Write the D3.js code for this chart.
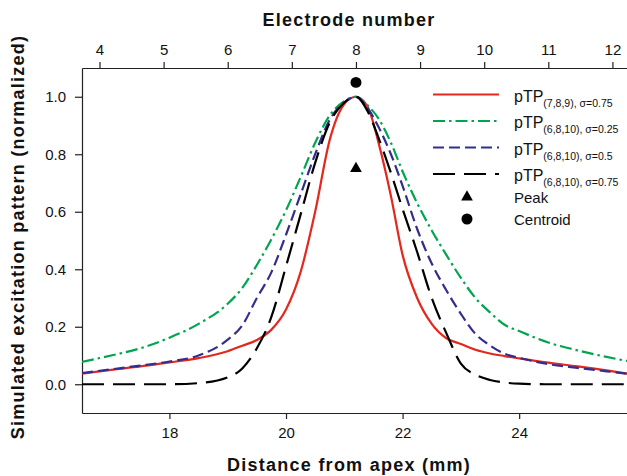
<!DOCTYPE html>
<html lang="en">
<head>
    <meta charset="UTF-8">
    <title>Simulated excitation pattern</title>
    <style>
        body { margin: 0; background: #fff; }
        .axis path, .axis line { fill: none; stroke: #222; stroke-width: 1.2px; }
        .axis text { font-family: "Liberation Sans", Arial, sans-serif; font-size: 15px; fill: #111; }
        .title { font-family: "Liberation Sans", Arial, sans-serif; font-size: 18px; font-weight: bold; letter-spacing: 1.25px; fill: #111; }
        .curve { fill: none; stroke-width: 2.2px; }
        .legend text { font-family: "Liberation Sans", Arial, sans-serif; fill: #111; }
    </style>
</head>
<body>
    <svg width="627" height="476"></svg>
    <script src="https://d3js.org/d3.v7.min.js"></script>
    <script>
        // Distance from apex (mm), shared sample grid
        const distance = [16.5, 17, 17.5, 18, 18.5, 19, 19.25, 19.5, 19.75, 20, 20.25, 20.5, 20.75, 21, 21.2,
                          21.4, 21.6, 21.8, 22, 22.25, 22.5, 22.75, 23, 23.25, 23.5, 23.75, 24, 24.5, 25, 25.5, 25.85];

        // normalized excitation patterns
        const tp789_075 = [0.037, 0.05, 0.062, 0.076, 0.091, 0.115, 0.134, 0.154, 0.19, 0.26, 0.39, 0.60, 0.85, 0.975, 1.0,
                           0.965, 0.83, 0.655, 0.45, 0.30, 0.21, 0.16, 0.14, 0.12, 0.107, 0.098, 0.09, 0.075, 0.062, 0.048, 0.037];
        const tp6810_025 = [0.078, 0.10, 0.125, 0.162, 0.21, 0.28, 0.335, 0.415, 0.505, 0.605, 0.72, 0.84, 0.935, 0.985, 1.0,
                            0.97, 0.92, 0.84, 0.74, 0.63, 0.535, 0.45, 0.37, 0.30, 0.25, 0.207, 0.185, 0.145, 0.118, 0.095, 0.081];
        const tp6810_05 = [0.039, 0.052, 0.065, 0.079, 0.10, 0.155, 0.205, 0.30, 0.39, 0.52, 0.66, 0.80, 0.92, 0.98, 1.0,
                           0.96, 0.89, 0.80, 0.69, 0.54, 0.42, 0.327, 0.245, 0.175, 0.135, 0.106, 0.092, 0.07, 0.057, 0.045, 0.037];
        const tp6810_075 = [0.0, 0.0, 0.0, 0.0, 0.004, 0.024, 0.055, 0.125, 0.235, 0.41, 0.59, 0.77, 0.91, 0.98, 1.0,
                            0.95, 0.85, 0.735, 0.61, 0.46, 0.30, 0.178, 0.072, 0.033, 0.015, 0.006, 0.002, 0.0, 0.0, 0.0, 0.0];

        // peak and centroid markers (distance, value)
        const peakPoint = [21.2, 0.75];
        const centroidPoint = [21.2, 1.05];

        // tick labels
        const distanceTicks = [18, 20, 22, 24];
        const electrodeTicks = [4, 5, 6, 7, 8, 9, 10, 11, 12];
        const valueTicks = [0, 0.2, 0.4, 0.6, 0.8, 1.0];

        // electrode 8 sits at 21.2 mm, 1.1 mm spacing
        const electrodeRef = 8, electrodeRefMm = 21.2, electrodeSpacing = 1.1;

        const series = [
            { name: "(7,8,9), \u03c3=0.75", values: tp789_075, color: "#e3281e", dash: null },
            { name: "(6,8,10), \u03c3=0.25", values: tp6810_025, color: "#00a550", dash: "12,4,2.5,4" },
            { name: "(6,8,10), \u03c3=0.5", values: tp6810_05, color: "#332e8e", dash: "11,5" },
            { name: "(6,8,10), \u03c3=0.75", values: tp6810_075, color: "#000", dash: "22,9" }
        ];

        const margin = {top: 68, right: 0, bottom: 63, left: 82},
            width = 627 - margin.left - margin.right,
            height = 476 - margin.top - margin.bottom;

        const svg = d3.select("svg")
            .append("g")
            .attr("transform", "translate(" + margin.left + "," + margin.top + ")");

        const xDomain = [16.5, 25.85];
        const x = d3.scaleLinear().domain(xDomain).range([0, width]);
        const xe = d3.scaleLinear()
            .domain(xDomain.map(function(d) { return electrodeRef + (d - electrodeRefMm) / electrodeSpacing; }))
            .range([0, width]);
        const y = d3.scaleLinear().domain([-0.1, 1.1]).range([height, 0]);

        // axes
        svg.append("g")
            .attr("class", "axis")
            .attr("transform", "translate(0," + height + ")")
            .call(d3.axisBottom(x).tickValues(distanceTicks).tickSize(6).tickSizeOuter(0).tickPadding(8));

        svg.append("g")
            .attr("class", "axis")
            .call(d3.axisTop(xe).tickValues(electrodeTicks).tickSize(6).tickSizeOuter(0).tickPadding(7));

        svg.append("g")
            .attr("class", "axis")
            .call(d3.axisLeft(y).tickValues(valueTicks).tickFormat(d3.format(".1f")).tickSize(7).tickSizeOuter(0).tickPadding(9));

        // titles
        svg.append("text").attr("class", "title")
            .attr("x", 267).attr("y", 26 - margin.top)
            .attr("text-anchor", "middle").text("Electrode number");
        svg.append("text").attr("class", "title")
            .attr("x", 267).attr("y", 471 - margin.top)
            .attr("text-anchor", "middle").text("Distance from apex (mm)");
        svg.append("text").attr("class", "title")
            .attr("transform", "translate(" + (24 - margin.left) + "," + (237 - margin.top) + ") rotate(-90)")
            .attr("text-anchor", "middle").text("Simulated excitation pattern (normalized)");

        // clip
        svg.append("clipPath").attr("id", "plotclip")
            .append("rect").attr("width", width).attr("height", height);

        const line = d3.line()
            .x(function(d, i) { return x(distance[i]); })
            .y(function(d) { return y(d); })
            .curve(d3.curveMonotoneX);

        const plot = svg.append("g").attr("clip-path", "url(#plotclip)");
        series.forEach(function(s) {
            plot.append("path")
                .datum(s.values)
                .attr("class", "curve")
                .style("stroke", s.color)
                .style("stroke-dasharray", s.dash)
                .attr("d", line);
        });

        const tri = d3.symbol().type(d3.symbolTriangle).size(60);
        const dot = d3.symbol().type(d3.symbolCircle).size(95);
        plot.append("path").attr("d", tri())
            .attr("transform", "translate(" + x(peakPoint[0]) + "," + y(peakPoint[1]) + ")");
        plot.append("path").attr("d", dot())
            .attr("transform", "translate(" + x(centroidPoint[0]) + "," + y(centroidPoint[1]) + ")");

        // legend (page coordinates)
        const legend = d3.select("svg").append("g").attr("class", "legend");
        const rowY = [94.5, 121, 147.5, 174];
        series.forEach(function(s, i) {
            legend.append("line")
                .attr("x1", 433).attr("x2", 499)
                .attr("y1", rowY[i]).attr("y2", rowY[i])
                .style("stroke", s.color).style("stroke-width", 2.2)
                .style("stroke-dasharray", s.dash);
            const t = legend.append("text").attr("x", 514).attr("y", rowY[i] + 7).style("font-size", "16px");
            t.append("tspan").text("pTP");
            t.append("tspan").attr("dy", 5).style("font-size", "10.5px").text(s.name);
        });
        legend.append("path").attr("d", tri()).attr("transform", "translate(467,197)");
        legend.append("text").attr("x", 514).attr("y", 203).style("font-size", "15px").text("Peak");
        legend.append("path").attr("d", dot()).attr("transform", "translate(467,219)");
        legend.append("text").attr("x", 514).attr("y", 225).style("font-size", "15px").text("Centroid");
    </script>
</body>
</html>
